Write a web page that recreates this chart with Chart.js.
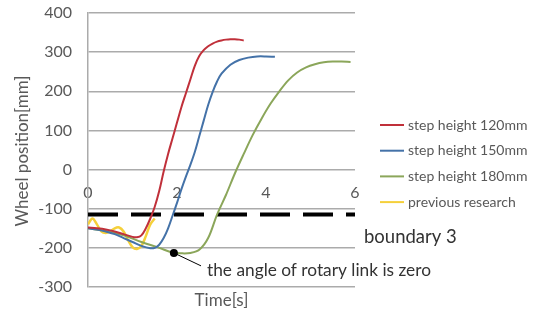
<!DOCTYPE html>
<html>
<head>
<meta charset="utf-8">
<script src="https://cdn.jsdelivr.net/npm/chart.js@4/dist/chart.umd.min.js"></script>
<style>
  html, body { margin: 0; padding: 0; background: #fff; }
  #wrap { width: 538px; height: 318px; }
</style>
</head>
<body>
<div id="wrap"><canvas id="wheelChart"></canvas></div>
<script>
// time [s] and wheel position [mm]
const timeRed  = [0, 0.2, 0.4, 0.6, 0.8, 1.0, 1.1, 1.2, 1.3, 1.4, 1.5, 1.6, 1.7, 1.8, 1.9, 2.0, 2.1, 2.2, 2.3, 2.4, 2.5, 2.6, 2.7, 2.8, 2.9, 3.0, 3.1, 3.2, 3.3, 3.4, 3.5];
const posRed   = [-148, -150, -153, -158, -165, -172, -173, -168, -150, -125, -95, -55, -5, 40, 80, 120, 160, 195, 230, 265, 290, 305, 315, 322, 327, 330, 332, 333, 333, 332, 330];

const timeBlue = [0, 0.2, 0.4, 0.6, 0.8, 1.0, 1.2, 1.4, 1.5, 1.6, 1.7, 1.8, 1.9, 2.0, 2.1, 2.2, 2.3, 2.4, 2.5, 2.6, 2.7, 2.8, 2.9, 3.0, 3.2, 3.4, 3.6, 3.8, 4.0, 4.2];
const posBlue  = [-150, -153, -158, -165, -175, -185, -195, -201, -200, -192, -175, -150, -118, -85, -50, -18, 12, 45, 85, 125, 165, 198, 225, 245, 268, 280, 286, 289, 289, 288];

const timeGreen = [0, 0.4, 0.8, 1.2, 1.6, 1.9, 2.1, 2.3, 2.5, 2.7, 2.9, 3.1, 3.3, 3.5, 3.7, 3.9, 4.1, 4.3, 4.5, 4.7, 4.9, 5.1, 5.3, 5.5, 5.7, 5.9];
const posGreen  = [-150, -157, -168, -185, -200, -212, -214, -213, -205, -175, -115, -65, -10, 40, 88, 130, 168, 200, 228, 248, 261, 269, 274, 276, 276, 275];

const timePrev = [0, 0.1, 0.2, 0.3, 0.4, 0.5, 0.6, 0.7, 0.8, 0.9, 1.0, 1.1, 1.2, 1.3, 1.4, 1.5];
const posPrev  = [-140, -125, -140, -158, -162, -158, -150, -148, -158, -180, -198, -203, -195, -170, -140, -125];

const seriesLabels = ['step height 120mm', 'step height 150mm', 'step height 180mm', 'previous research'];

const boundaryTime = [0, 6];
const boundaryPos  = [-115, -115];
const boundaryLabel = 'boundary 3';

// annotation: marked point and end of its leader line
const notePoint = [1.93, -213];
const noteEnd   = [2.54, -246];
const noteText  = 'the angle of rotary link is zero';

const yTicks = [-300, -200, -100, 0, 100, 200, 300, 400];
const xTicks = [0, 2, 4, 6];

const toPoints = (xs, ys) => xs.map((x, i) => ({ x: x, y: ys[i] }));

const FONT = 'Lato, "Open Sans", sans-serif';

const extras = {
  id: 'extras',
  afterDraw(chart) {
    const ctx = chart.ctx;
    const xs = chart.scales.x, ys = chart.scales.y;
    const area = chart.chartArea;
    ctx.save();

    // axis titles
    ctx.fillStyle = '#595959';
    ctx.font = '17px ' + FONT;
    ctx.textAlign = 'center';
    ctx.textBaseline = 'middle';
    ctx.fillText('Time[s]', (area.left + area.right) / 2, 301);
    ctx.save();
    ctx.translate(23, 151);
    ctx.rotate(-Math.PI / 2);
    ctx.fillText('Wheel position[mm]', 0, 0);
    ctx.restore();

    // annotation leader + dot
    const px = xs.getPixelForValue(notePoint[0]), py = ys.getPixelForValue(notePoint[1]);
    const ex = xs.getPixelForValue(noteEnd[0]), ey = ys.getPixelForValue(noteEnd[1]);
    ctx.strokeStyle = '#000';
    ctx.lineWidth = 1;
    ctx.beginPath(); ctx.moveTo(px, py); ctx.lineTo(ex, ey); ctx.stroke();
    ctx.fillStyle = '#000';
    ctx.beginPath(); ctx.arc(px, py, 4, 0, Math.PI * 2); ctx.fill();
    ctx.fillStyle = '#333';
    ctx.font = '17.3px ' + FONT;
    ctx.textAlign = 'left';
    ctx.fillText(noteText, ex + 6, ey + 5);

    // boundary label
    ctx.font = '18.5px ' + FONT;
    ctx.fillText(boundaryLabel, 364, 237);

    // legend
    ctx.font = '14px ' + FONT;
    ctx.fillStyle = '#595959';
    chart.data.datasets.slice(0, 4).forEach((ds, i) => {
      const y = 125 + i * 25.7;
      ctx.strokeStyle = ds.borderColor;
      ctx.lineWidth = 2;
      ctx.beginPath(); ctx.moveTo(380, y); ctx.lineTo(404, y); ctx.stroke();
      ctx.fillText(ds.label, 408, y);
    });
    ctx.restore();
  }
};

const lineStyle = { borderWidth: 2, pointRadius: 0, tension: 0.35, fill: false };

new Chart(document.getElementById('wheelChart').getContext('2d'), {
  type: 'line',
  data: {
    datasets: [
      Object.assign({ label: seriesLabels[0], data: toPoints(timeRed, posRed), borderColor: '#C0303A' }, lineStyle),
      Object.assign({ label: seriesLabels[1], data: toPoints(timeBlue, posBlue), borderColor: '#4472A8' }, lineStyle),
      Object.assign({ label: seriesLabels[2], data: toPoints(timeGreen, posGreen), borderColor: '#8BA65A' }, lineStyle),
      Object.assign({}, lineStyle, { label: seriesLabels[3], data: toPoints(timePrev, posPrev), borderColor: '#F5D03A', borderWidth: 2.5 }),
      {
        label: boundaryLabel,
        data: toPoints(boundaryTime, boundaryPos),
        borderColor: '#000',
        borderWidth: 4,
        borderDash: [30, 13],
        pointRadius: 0,
        tension: 0
      }
    ]
  },
  options: {
    responsive: true,
    maintainAspectRatio: false,
    animation: false,
    layout: { padding: { top: 13, bottom: 31, right: 183, left: 0 } },
    plugins: { legend: { display: false }, tooltip: { enabled: false } },
    scales: {
      x: {
        type: 'linear',
        position: { y: 0 },
        min: 0, max: 6,
        afterBuildTicks: (scale) => { scale.ticks = xTicks.map(v => ({ value: v })); },
        grid: { display: false, drawTicks: false },
        border: { display: false },
        ticks: { color: '#595959', font: { size: 16, family: FONT }, padding: 14, maxRotation: 0 }
      },
      y: {
        min: -300, max: 400,
        afterBuildTicks: (scale) => { scale.ticks = yTicks.map(v => ({ value: v })); },
        afterFit: (scale) => {
          scale.width = 88;
          scale.paddingTop = 10;
          scale.paddingBottom = 10;
        },
        grid: { color: '#ABABAB', lineWidth: 1.5, drawTicks: false },
        border: { color: '#ABABAB', width: 1.5 },
        ticks: { color: '#595959', font: { size: 16, family: FONT }, padding: 16 }
      }
    }
  },
  plugins: [extras]
});
</script>
</body>
</html>
